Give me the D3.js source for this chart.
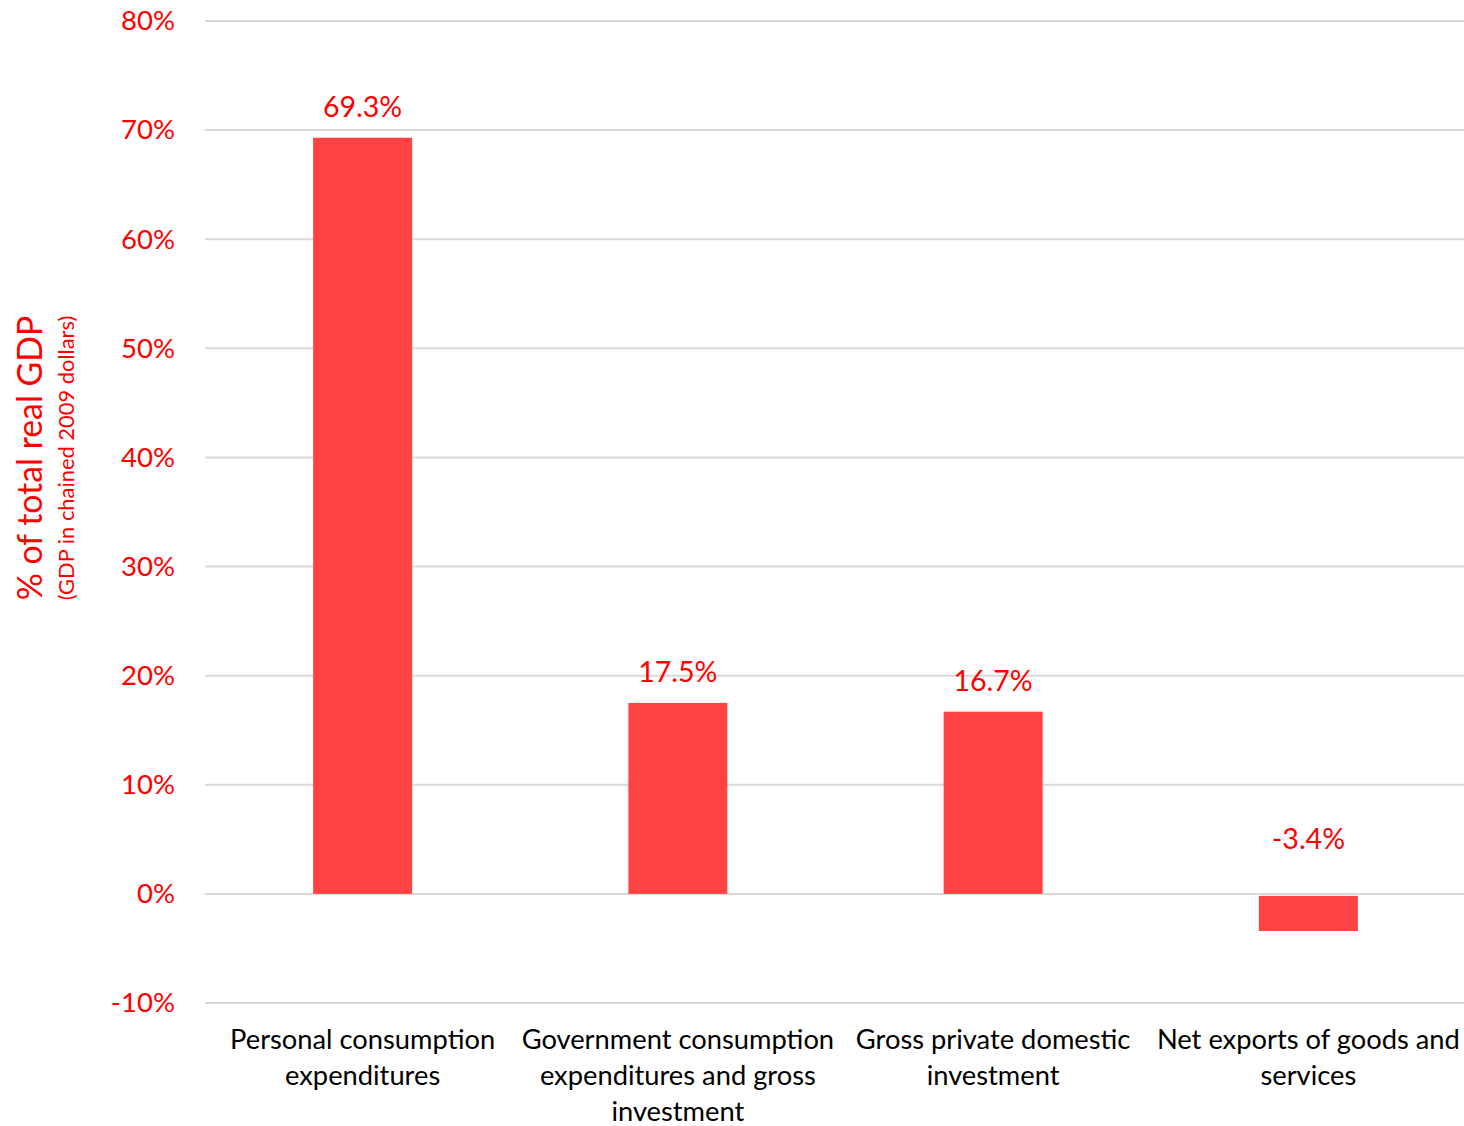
<!DOCTYPE html>
<html><head><meta charset="utf-8">
<script src="https://cdn.jsdelivr.net/npm/d3@7/dist/d3.min.js"></script>
<style>body{margin:0;background:#fff}svg{display:block}text{font-family:Lato,"Open Sans",sans-serif}</style>
</head><body>
<svg id="c" width="1464" height="1126"></svg>
<script>
const categories = [
  ["Personal consumption", "expenditures"],
  ["Government consumption", "expenditures and gross", "investment"],
  ["Gross private domestic", "investment"],
  ["Net exports of goods and", "services"]
];
const values = [69.3, 17.5, 16.7, -3.4];
const valueLabels = ["69.3%", "17.5%", "16.7%", "-3.4%"];
const yTicks = [-10, 0, 10, 20, 30, 40, 50, 60, 70, 80];

const svg = d3.select("#c");
const pL = 205, pR = 1464, pT = 21, pB = 1003;
const x = d3.scaleBand().domain(d3.range(categories.length)).range([pL, pR + 2]).paddingInner(0.686).paddingOuter(0.343);
const y = d3.scaleLinear().domain([-10, 80]).range([pB, pT]);

svg.append("g").selectAll("line").data(yTicks).join("line")
  .attr("x1", pL).attr("x2", pR)
  .attr("y1", d => y(d)).attr("y2", d => y(d))
  .attr("stroke", "#d9d9d9").attr("stroke-width", 2);

const yAxis = d3.axisLeft(y).tickValues(yTicks).tickFormat(d => d + "%").tickSize(0).tickPadding(0);
const ga = svg.append("g").attr("transform", `translate(175,0)`).call(yAxis);
ga.select(".domain").remove();
ga.selectAll("text").attr("fill", "#ff0000").style("font-size", "27.5px").style("font-family", "Lato, sans-serif");

svg.append("g").selectAll("rect").data(values).join("rect")
  .attr("x", (d, i) => x(i)).attr("width", x.bandwidth())
  .attr("y", d => y(Math.max(0, d)) + (d < 0 ? 2 : 0))
  .attr("height", d => Math.abs(y(d) - y(0)) - (d < 0 ? 2 : 0))
  .attr("fill", "#ff4343");

svg.append("g").selectAll("text").data(values).join("text")
  .attr("x", (d, i) => x(i) + x.bandwidth() / 2)
  .attr("y", d => d >= 0 ? y(d) - 21 : y(0) - 45)
  .attr("text-anchor", "middle").attr("fill", "#ff0000")
  .style("font-size", "28.5px")
  .text((d, i) => valueLabels[i]);

const cg = svg.append("g").selectAll("text").data(categories).join("text")
  .attr("text-anchor", "middle").attr("fill", "#000")
  .style("font-size", "27.3px");
cg.each(function(lines, i) {
  d3.select(this).selectAll("tspan").data(lines).join("tspan")
    .attr("x", x(i) + x.bandwidth() / 2)
    .attr("y", (l, j) => 1049 + j * 36)
    .text(l => l);
});

svg.append("text").attr("transform", "translate(42,458) rotate(-90)")
  .attr("text-anchor", "middle").attr("fill", "#ff0000").style("font-size", "33.8px")
  .text("% of total real GDP");
svg.append("text").attr("transform", "translate(74,458) rotate(-90)")
  .attr("text-anchor", "middle").attr("fill", "#ff0000").style("font-size", "21.9px")
  .text("(GDP in chained 2009 dollars)");
</script>
</body></html>
